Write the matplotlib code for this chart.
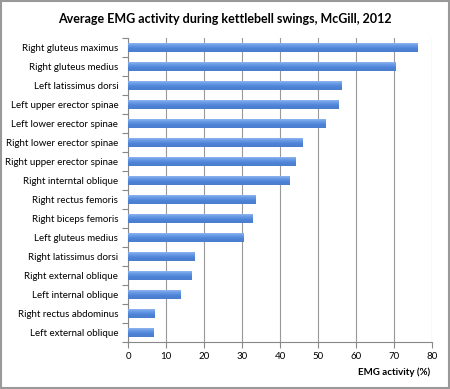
import matplotlib.pyplot as plt
from matplotlib.colors import LinearSegmentedColormap
import numpy as np

muscles = [
    "Right gluteus maximus", "Right gluteus medius", "Left latissimus dorsi",
    "Left upper erector spinae", "Left lower erector spinae",
    "Right lower erector spinae", "Right upper erector spinae",
    "Right interntal oblique", "Right rectus femoris", "Right biceps femoris",
    "Left gluteus medius", "Right latissimus dorsi", "Right external oblique",
    "Left internal oblique", "Right rectus abdominus", "Left external oblique",
]
activity = [76.2, 70.3, 56.3, 55.5, 52.1, 45.8, 44.2, 42.5, 33.6, 32.7,
            30.3, 17.4, 16.6, 13.8, 7.0, 6.8]
xticks = [0, 10, 20, 30, 40, 50, 60, 70, 80]

plt.rcParams['font.family'] = ['Lato', 'DejaVu Sans']

fig = plt.figure(figsize=(4.5, 3.89), dpi=100)
ax = fig.add_axes([128 / 450, 1 - 342 / 389, 304 / 450, 304 / 389])

y = np.arange(len(muscles))
bars = ax.barh(y, activity, height=0.5, color='#5b8fde', edgecolor='none', zorder=3)

# vertical gradient on each bar (light top, darker bottom)
grad = LinearSegmentedColormap.from_list('bar', ['#9dbff0', '#6a9be6', '#4d82d6', '#4a7dcc'])
g = np.linspace(0, 1, 50).reshape(-1, 1)
for b in bars:
    x0, y0 = b.get_x(), b.get_y()
    w, h = b.get_width(), b.get_height()
    im = ax.imshow(g, cmap=grad, aspect='auto', extent=(x0, x0 + w, y0 + h, y0),
                   zorder=4, interpolation='bilinear')
    im.set_clip_path(b)

ax.set_xlim(0, 80)
ax.set_ylim(len(muscles) - 0.5, -0.5)
ax.set_xticks(xticks)
ax.set_yticks(y)
ax.set_yticklabels(muscles, fontsize=7)
ax.set_yticks(np.arange(len(muscles) + 1) - 0.5, minor=True)
ax.tick_params(axis='y', which='major', length=0, pad=7)
ax.tick_params(axis='y', which='minor', length=4, color='#888888', width=0.8)
ax.tick_params(axis='x', labelsize=7, length=4, color='#888888', width=0.8)

ax.grid(axis='x', color='#999999', linewidth=0.8, zorder=0)
for side in ['top', 'right']:
    ax.spines[side].set_visible(False)
for side in ['left', 'bottom']:
    ax.spines[side].set_color('#888888')
    ax.spines[side].set_linewidth(0.8)

fig.text(0.5, 1 - 19 / 389, "Average EMG activity during kettlebell swings, McGill, 2012",
         ha='center', va='center', fontsize=9, fontweight='bold')
fig.text(430 / 450, 1 - 372 / 389, "EMG activity (%)", ha='right', va='center',
         fontsize=7, fontweight='bold')

fig.patches.append(plt.Rectangle((0.002, 0.002), 0.996, 0.996, transform=fig.transFigure,
                                 fill=False, edgecolor='#999999', linewidth=1.5))

fig.savefig('out.png', dpi=100)
